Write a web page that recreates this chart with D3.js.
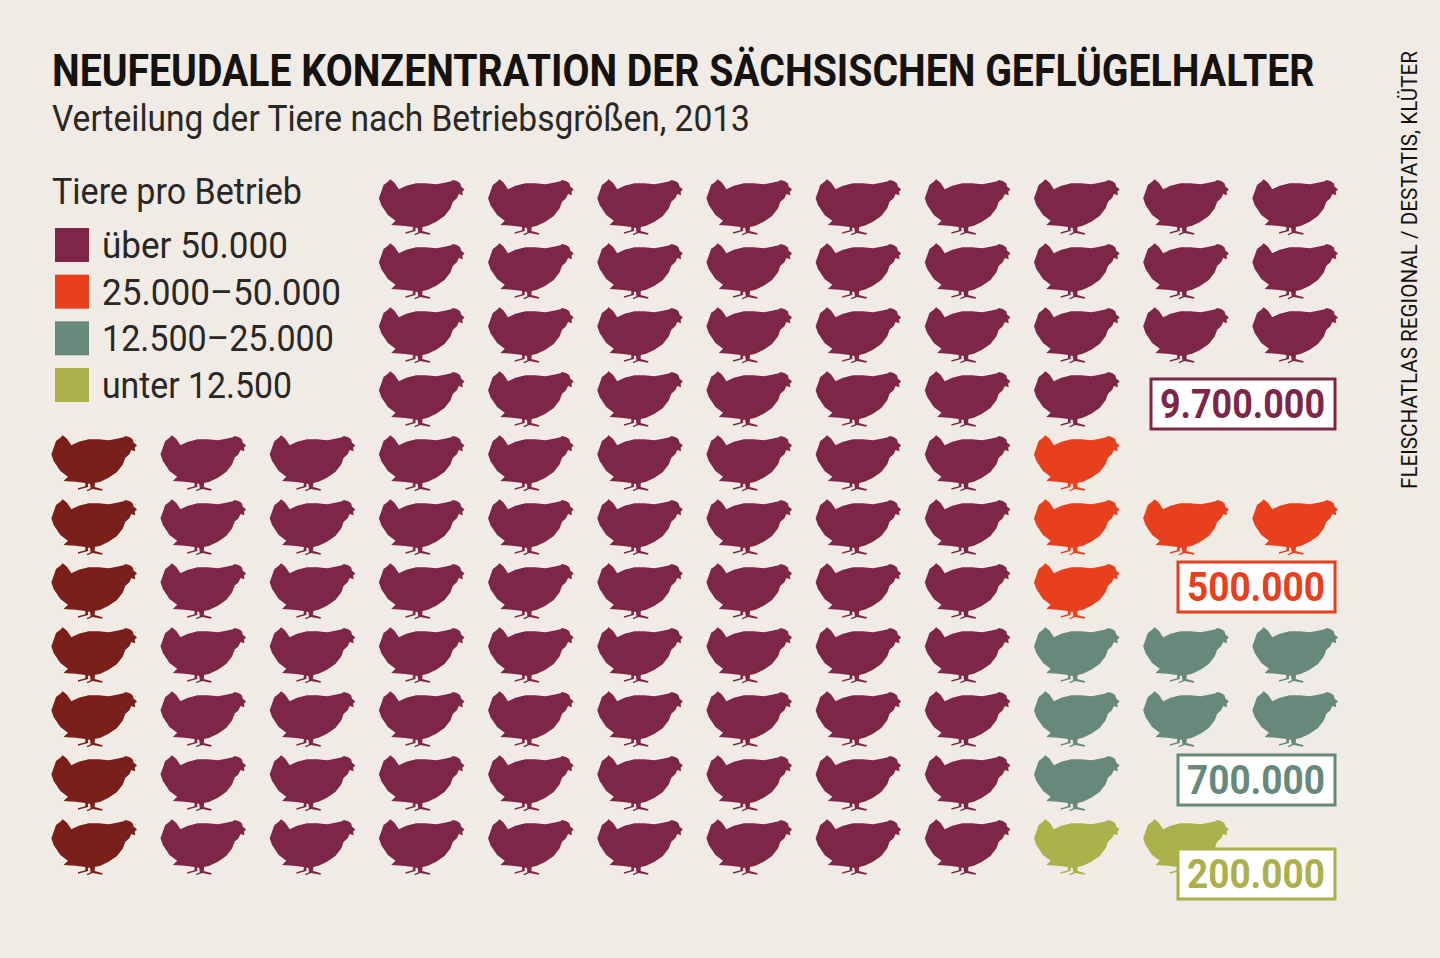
<!DOCTYPE html>
<html>
<head>
<meta charset="utf-8">
<script src="https://cdn.jsdelivr.net/npm/d3@7"></script>
<style>
  html, body { margin: 0; padding: 0; background: #f0ebe5; }
  svg { display: block; }
</style>
</head>
<body>
<div id="chart"></div>
<script>
var svgWidth = 1440;
var svgHeight = 958;

// Data: one hen = 100.000 animals
var categories = ["über 50.000", "25.000–50.000", "12.500–25.000", "unter 12.500"];
var totals = ["9.700.000", "500.000", "700.000", "200.000"];
var rowNumbers = d3.range(11);
var columnNumbers = d3.range(12);

// one string per column, one letter per row from the top, "." = no hen
// D is the darker first column, it has no legend entry in the original
var henColumns = [
  "....DDDDDDD",
  "....PPPPPPP",
  "....PPPPPPP",
  "PPPPPPPPPPP",
  "PPPPPPPPPPP",
  "PPPPPPPPPPP",
  "PPPPPPPPPPP",
  "PPPPPPPPPPP",
  "PPPPPPPPPPP",
  "PPPPOOOGGGL",
  "PPP..O.GG.L",
  "PPP..O.GG.."
];

var colorKeys = ["P", "O", "G", "L", "D"];
var colorValues = ["#7e2648", "#e8401c", "#66897b", "#abb04b", "#7a1f1a"];

var henBody = [
  [-94, -83], [-81, -73], [-68, -53], [-46, -64], [-16, -71], [14, -71], [44, -68],
  [69, -73], [89, -77], [94, -81], [106, -78], [116, -71], [119, -61], [129, -53],
  [122, -46], [124, -35], [112, -39], [106, -26], [94, -16], [87, 4], [69, 27],
  [44, 44], [19, 56], [3, 60], [2, 72], [26, 79], [24, 83], [-4, 78], [-20, 85],
  [-22, 82], [-10, 76], [-12, 62], [-18, 62], [-18, 72], [-48, 80], [-48, 76],
  [-26, 70], [-26, 60], [-56, 56], [-91, 54], [-78, 41], [-101, 24], [-121, -6],
  [-128, -26], [-121, -46], [-114, -66], [-101, -76]
];
var henPath = d3.line().curve(d3.curveLinearClosed)(henBody);

var svg = d3.select("#chart")
  .append("svg")
  .attr("width", svgWidth)
  .attr("height", svgHeight);

svg.append("rect")
  .attr("width", svgWidth)
  .attr("height", svgHeight)
  .attr("fill", "#f0ebe5");

// Scales
var xScale = d3.scalePoint().domain(columnNumbers).range([94, 1295]);
var yScale = d3.scalePoint().domain(rowNumbers).range([207, 847]);
var colorScale = d3.scaleOrdinal().domain(colorKeys).range(colorValues);

// Flatten the columns into one list of hens
var hens = [];
henColumns.forEach(function(column, c) {
  column.split("").forEach(function(key, r) {
    if (key !== ".") hens.push({ column: c, row: r, key: key });
  });
});

svg.append("g").selectAll("path")
  .data(hens)
  .enter()
  .append("path")
  .attr("d", henPath)
  .attr("stroke-linejoin", "round")
  .attr("transform", d => `translate(${xScale(d.column)}, ${yScale(d.row)}) scale(0.3333)`)
  .attr("fill", d => colorScale(d.key));

// The original face is narrow, so squeeze each text to its measured width
function addText(str, x, y, size, weight, length, fill) {
  var label = svg.append("text")
    .attr("font-family", "Roboto, sans-serif")
    .attr("font-size", size)
    .attr("font-weight", weight)
    .attr("fill", fill || "#15120f")
    .text(str);
  var sx = length / label.node().getComputedTextLength();
  label.attr("transform", `translate(${x}, ${y}) scale(${sx}, 1)`);
  return label;
}

addText("NEUFEUDALE KONZENTRATION DER SÄCHSISCHEN GEFLÜGELHALTER", 52, 86, 45, 700, 1263);
addText("Verteilung der Tiere nach Betriebsgrößen, 2013", 52, 131, 37, 400, 698, "#2a2724");

// Legend
addText("Tiere pro Betrieb", 52, 204, 37, 400, 250, "#2a2724");

var legendY = d3.scalePoint().domain(categories).range([245, 385]);
var legendWidths = [186, 239, 232, 190];

svg.append("g").selectAll("rect")
  .data(categories)
  .enter()
  .append("rect")
  .attr("x", 55)
  .attr("y", d => legendY(d) - 17)
  .attr("width", 34)
  .attr("height", 34)
  .attr("fill", (d, i) => colorValues[i]);

categories.forEach(function(d, i) {
  addText(d, 102, legendY(d) + 13, 37, 400, legendWidths[i], "#2a2724");
});

// Total boxes
var totalBoxes = [
  { x: 1151, y: 379, width: 184, height: 50 },
  { x: 1178, y: 562, width: 157, height: 50 },
  { x: 1178, y: 755, width: 157, height: 50 },
  { x: 1178, y: 849, width: 157, height: 50 }
];

totals.forEach(function(d, i) {
  var box = totalBoxes[i];
  svg.append("rect")
    .attr("x", box.x)
    .attr("y", box.y)
    .attr("width", box.width)
    .attr("height", box.height)
    .attr("fill", "#ffffff")
    .attr("stroke", colorValues[i])
    .attr("stroke-width", 3);
  addText(d, box.x + 9, box.y + 39, 40, 700, box.width - 19, colorValues[i]);
});

// Source, rotated along the right edge
var source = addText("FLEISCHATLAS REGIONAL / DESTATIS, KLÜTER", 0, 0, 22, 400, 438);
source.attr("transform", `translate(1417, 489) rotate(-90) ${source.attr("transform")}`);
</script>
</body>
</html>
